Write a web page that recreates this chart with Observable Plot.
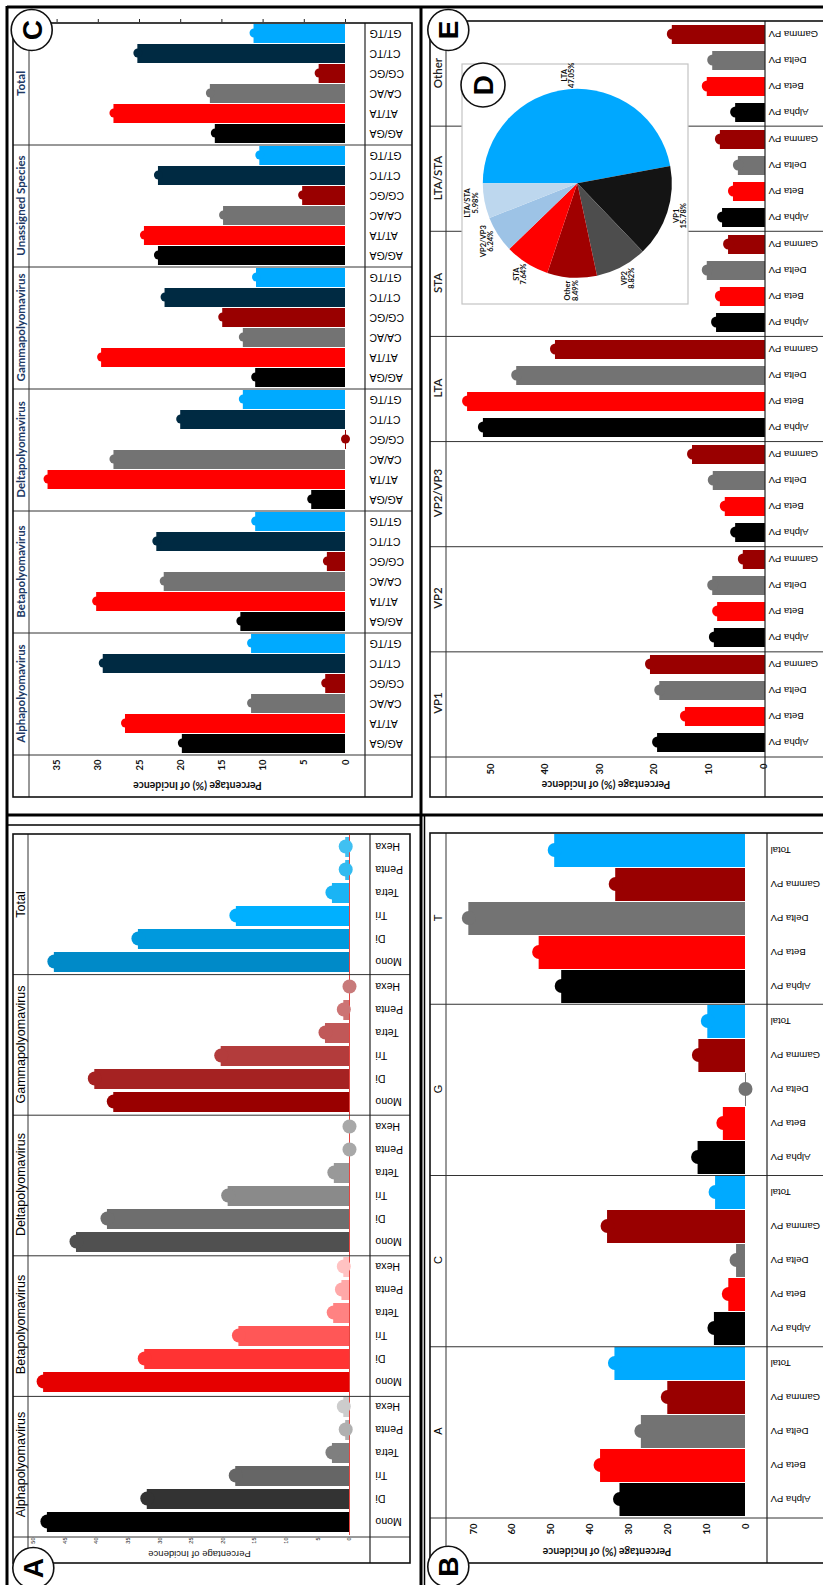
<!DOCTYPE html>
<html><head><meta charset="utf-8">
<script src="https://cdn.jsdelivr.net/npm/d3@7"></script>
<script src="https://cdn.jsdelivr.net/npm/@observablehq/plot@0.6"></script>
<style>
html,body{margin:0;padding:0;background:#fff;overflow:hidden;width:823px;height:1585px}
#wrap{position:absolute;left:0;top:0;width:1585px;height:823px;transform-origin:0 0;transform:translate(0px,1585px) rotate(-90deg);overflow:hidden;background:#fff}
#wrap > div{position:absolute}
svg{overflow:visible}
</style></head><body><div id="wrap"></div><script>
// ---------- DATA ----------
// Panel A: SSR repeat types
const repeatTypes = ["Mono","Di","Tri","Tetra","Penta","Hexa"];
const genusA = ["Alphapolyomavirus","Betapolyomavirus","Deltapolyomavirus","Gammapolyomavirus","Total"];
const ssrAlpha = [47.8, 32.0, 18.0, 2.7, 0.6, 0.9];
const ssrBeta  = [48.4, 32.4, 17.5, 2.5, 1.2, 0.9];
const ssrDelta = [43.2, 38.3, 19.2, 2.4, 0, 0];
const ssrGamma = [37.3, 40.3, 20.3, 3.8, 0.9, 0];
const ssrTotal = [46.7, 33.4, 17.9, 2.7, 0.6, 0.6];
const shadeAlpha = ["#000000","#333333","#666666","#7f7f7f","#b0b0b0","#cccccc"];
const shadeBeta  = ["#e60000","#ff3333","#ff5757","#ff8282","#ffa8a8","#ffc2c2"];
const shadeDelta = ["#505050","#6e6e6e","#8a8a8a","#999999","#a8a8a8","#a8a8a8"];
const shadeGamma = ["#990000","#a52222","#b33c3c","#c05858","#cc7474","#c87a7a"];
const shadeTotal = ["#008ac8","#0099dd","#00b0ff","#1ab4f5","#33bbf0","#40c0f2"];

// Panel B: base composition
const bases = ["A","C","G","T"];
const groupsB = ["Alpha PV","Beta PV","Delta PV","Gamma PV","Total"];
const baseA = [32.3, 37.3, 26.8, 20.0, 33.6];
const baseC = [8.0, 4.3, 2.3, 35.5, 7.7];
const baseG = [12.2, 5.7, 0, 12.0, 9.7];
const baseT = [47.3, 53.1, 71.2, 33.4, 49.1];
const colorsB = ["#000000","#ff0000","#737373","#990000","#00aaff"];

// Panel C: dinucleotide repeats
const dinucs = ["AG/GA","AT/TA","CA/AC","CG/GC","CT/TC","GT/TG"];
const genusC = ["Alphapolyomavirus","Betapolyomavirus","Deltapolyomavirus","Gammapolyomavirus","Unassigned Species","Total"];
const diAlpha = [19.8, 26.7, 11.4, 2.4, 29.4, 11.4];
const diBeta  = [12.7, 30.2, 22.0, 2.2, 22.9, 10.9];
const diDelta = [4.1, 36.1, 28.1, 0, 20.0, 12.4];
const diGamma = [10.9, 29.6, 12.4, 14.9, 21.9, 10.8];
const diUnassigned = [22.7, 24.4, 14.8, 5.2, 22.7, 10.4];
const diTotal = [15.8, 28.1, 16.4, 3.2, 25.2, 11.1];
const colorsC = ["#000000","#ff0000","#737373","#990000","#002a42","#00aaff"];

// Panel E: SSR location by protein
const proteins = ["VP1","VP2","VP2/VP3","LTA","STA","LTA/STA","Other"];
const groupsE = ["Alpha PV","Beta PV","Delta PV","Gamma PV"];
const eVP1 = [19.4, 14.3, 19.0, 20.7];
const eVP2 = [9.0, 8.4, 9.3, 3.7];
const eVP2VP3 = [5.1, 7.0, 9.2, 13.0];
const eLTA = [51.3, 54.2, 45.2, 38.1];
const eSTA = [8.6, 7.9, 10.3, 6.4];
const eLTASTA = [7.5, 5.5, 4.6, 7.9];
const eOther = [5.1, 10.3, 9.3, 16.7];
const colorsE = ["#000000","#ff0000","#737373","#990000"];

// Panel D: pie
const pieLabels = ["LTA","VP1","VP2","Other","STA","VP2/VP3","LTA/STA"];
const pieValues = [47.05, 15.78, 8.82, 8.49, 7.64, 6.24, 5.98];
const pieColors = ["#00a8ff","#141414","#4d4d4d","#a00000","#ff0000","#9dc3e6","#bdd7ee"];

// ---------- HELPERS ----------
const fArial = "'Liberation Sans', Arial, sans-serif";
const fCal = "Lato, 'Open Sans', sans-serif";
const wrap = document.getElementById("wrap");
function place(node, left, top) {
  const d = document.createElement("div");
  d.style.left = left + "px"; d.style.top = top + "px";
  d.appendChild(node); wrap.appendChild(d);
}
function rowsFrom(fxDomain, xDomain, valueArrays, colorArrays) {
  return fxDomain.flatMap((f, i) => xDomain.map((k, j) => ({f, k, v: valueArrays[i][j], c: colorArrays[i][j]})));
}

function barPanel(o) {
  const yMin = (o.zero - o.plotBottom) / o.scale;
  const yMax = (o.zero - o.titleBottom) / o.scale;
  const base = o.fromMin ? yMin : 0;
  const marks = [];
  if (o.baseRule) marks.push(Plot.ruleY([0], {stroke: o.baseRule, strokeWidth: 0.9}));
  marks.push(Plot.barY(o.rows, {fx: "f", x: "k", y1: () => base, y2: "v", fill: "c"}));
  if (o.zeroTicks) marks.push(Plot.tickY(o.rows.filter(d => d.v === 0), {fx: "f", x: "k", y: () => 0, stroke: "c", strokeWidth: 1}));
  marks.push(Plot.dot(o.rows, {fx: "f", x: "k", y: "v", fill: "c", r: o.r}));
  marks.push(Plot.text(o.fxDomain, {fx: d => d, text: d => d, frameAnchor: "top", dy: -(o.titleBottom - o.svgTop) / 2, lineAnchor: "middle",
    fontSize: o.titleSize, fontWeight: o.titleWeight, fontFamily: o.titleFont, fill: o.titleFill}));
  marks.push(Plot.axisX({tickRotate: -90, tickSize: 0, tickPadding: o.labelPad, fontSize: o.labelSize, fontFamily: fArial, fill: "#000", label: null}));
  marks.push(Plot.axisY({ticks: o.yTicks, tickSize: 0, tickPadding: o.yTickPad, fontSize: o.yTickSize, fontWeight: o.yTickWeight, fontFamily: o.yFont, fill: "#111", label: null}));
  marks.push(Plot.axisY({ticks: [], tickSize: 0, label: o.yLabel, labelAnchor: "center", labelArrow: "none", labelOffset: o.yLabelOffset,
    fontSize: o.yLabelSize, fontWeight: o.yLabelWeight, fontFamily: o.yFont, fill: "#111"}));
  if (o.rightTicks) marks.push(Plot.axisY({anchor: "right", ticks: o.yTicks, tickSize: 3, tickFormat: () => "", label: null, stroke: "#222"}));
  const chart = Plot.plot({
    width: o.svgW, height: o.svgH,
    marginLeft: o.fx0 - o.svgLeft, marginRight: 0,
    marginTop: o.titleBottom - o.svgTop, marginBottom: o.svgTop + o.svgH - o.plotBottom,
    fx: {domain: o.fxDomain, padding: 0, axis: null, label: null},
    x: {domain: o.xDomain, paddingInner: o.pi, paddingOuter: o.po, label: null},
    y: {domain: [yMin, yMax], label: null},
    color: {type: "identity"},
    style: {background: "transparent", fontFamily: fArial, fontSize: "10px", overflow: "visible"},
    marks
  });
  place(chart, o.svgLeft, o.svgTop);
}

// ---------- PANELS ----------
const A = {svgLeft: 22, svgTop: 13, svgW: 729, svgH: 397, fx0: 48, titleBottom: 28, plotBottom: 370, zero: 349, scale: 6.32,
  fxDomain: genusA, xDomain: repeatTypes,
  rows: rowsFrom(genusA, repeatTypes, [ssrAlpha, ssrBeta, ssrDelta, ssrGamma, ssrTotal], [shadeAlpha, shadeBeta, shadeDelta, shadeGamma, shadeTotal]),
  pi: 0.15, po: 0.03, r: 7, baseRule: "#e0302a",
  titleSize: 12.5, titleWeight: 400, titleFont: fArial, titleFill: "#000",
  labelPad: 5, labelSize: 10.5,
  yTicks: d3.range(0, 51, 5), yTickPad: 3, yTickSize: 5.5, yTickWeight: 400, yFont: fArial,
  yLabel: "Percentage of Incidence", yLabelOffset: 23, yLabelSize: 9.5, yLabelWeight: 400};
const C = {svgLeft: 788, svgTop: 13, svgW: 774, svgH: 399, fx0: 830, titleBottom: 29, plotBottom: 365, zero: 345, scale: 8.24,
  fxDomain: genusC, xDomain: dinucs,
  rows: rowsFrom(genusC, dinucs, [diAlpha, diBeta, diDelta, diGamma, diUnassigned, diTotal], genusC.map(() => colorsC)),
  pi: 0.05, po: 0.0, r: 4.5, zeroTicks: true, rightTicks: true,
  titleSize: 11.5, titleWeight: 700, titleFont: fCal, titleFill: "#203864",
  labelPad: 4, labelSize: 10.5,
  yTicks: d3.range(0, 36, 5), yTickPad: 5, yTickSize: 9.5, yTickWeight: 700, yFont: fCal,
  yLabel: "Percentage (%) of Incidence", yLabelOffset: 35, yLabelSize: 10.5, yLabelWeight: 700};
const B = {svgLeft: 22, svgTop: 430, svgW: 730, svgH: 400, fx0: 67, titleBottom: 446, plotBottom: 767, zero: 745, scale: 3.886,
  fxDomain: bases, xDomain: groupsB,
  rows: rowsFrom(bases, groupsB, [baseA, baseC, baseG, baseT], bases.map(() => colorsB)),
  pi: 0.03, po: 0.0, r: 7, zeroTicks: true,
  titleSize: 11, titleWeight: 400, titleFont: fArial, titleFill: "#000",
  labelPad: 3, labelSize: 9.6,
  yTicks: d3.range(0, 71, 10), yTickPad: 7, yTickSize: 9.5, yTickWeight: 700, yFont: fCal,
  yLabel: "Percentage (%) of Incidence", yLabelOffset: 39, yLabelSize: 10.5, yLabelWeight: 700};
const E = {svgLeft: 788, svgTop: 430, svgW: 776, svgH: 400, fx0: 828, titleBottom: 446, plotBottom: 765, zero: 763, scale: 5.46,
  fxDomain: proteins, xDomain: groupsE, fromMin: true,
  rows: rowsFrom(proteins, groupsE, [eVP1, eVP2, eVP2VP3, eLTA, eSTA, eLTASTA, eOther], proteins.map(() => colorsE)),
  pi: 0.27, po: 0.13, r: 5.5,
  titleSize: 11.5, titleWeight: 600, titleFont: fCal, titleFill: "#222",
  labelPad: 3, labelSize: 9.6,
  yTicks: d3.range(0, 51, 10), yTickPad: 8, yTickSize: 9.5, yTickWeight: 700, yFont: fCal,
  yLabel: "Percentage (%) of Incidence", yLabelOffset: 33, yLabelSize: 10.5, yLabelWeight: 700};
[A, C, B, E].forEach(barPanel);

// ---------- GRID / BORDERS OVERLAY ----------
const ov = d3.create("svg").attr("width", 1585).attr("height", 823).style("position", "absolute").style("left", 0).style("top", 0);
function ln(x1, y1, x2, y2, w, col) {
  ov.append("line").attr("x1", x1).attr("y1", y1).attr("x2", x2).attr("y2", y2).attr("stroke", col || "#000").attr("stroke-width", w);
}
function grid(o, x0, x1, y0, y1, n) {
  const fw = (x1 - o.fx0) / n;
  for (let k = 1; k < n; k++) ln(o.fx0 + k * fw, y0, o.fx0 + k * fw, y1, 1, "#333");
  ln(o.fx0, y0, o.fx0, y1, 1, "#333");
  ln(x0, o.titleBottom, x1, o.titleBottom, 1, "#333");
  ln(x0, o.plotBottom, x1, o.plotBottom, 1.2, "#222");
  ov.append("rect").attr("x", x0).attr("y", y0).attr("width", x1 - x0).attr("height", y1 - y0).attr("fill", "none").attr("stroke", "#111").attr("stroke-width", 1.6);
}
grid(A, 22, 751, 13, 410, 5);
grid(C, 788, 1562, 13, 412, 6);
grid(B, 22, 752, 430, 840, 4);
grid(E, 788, 1564, 430, 840, 7);
// quadrant borders
ln(0, 7, 1579, 7, 3);
ln(1578, 7, 1578, 823, 3);
ln(770, 7, 770, 823, 3);
ln(760, 7, 760, 421, 1.5);
ln(0, 421, 1579, 421, 3);
ln(0, 424.5, 770, 424.5, 1.5);
place(ov.node(), 0, 0);

// ---------- PIE (D) ----------
const pieRows = pieLabels.map((n, i) => ({n, v: pieValues[i], c: pieColors[i]}));
const pieW = 241, pieH = 227, pcx = 121.7, pcy = 116.3, pr = 94.5;
const arcs = d3.pie().sort(null).value(d => d.v)(pieRows);
const labelArc = d3.arc().innerRadius(108).outerRadius(108);
arcs.forEach(a => { const [lx, ly] = labelArc.centroid(a); a.data.lx = pcx + lx; a.data.ly = pcy + ly; });
const pie = Plot.plot({
  width: pieW, height: pieH, margin: 0,
  x: {domain: [0, pieW], range: [0, pieW], axis: null},
  y: {domain: [0, pieH], range: [0, pieH], axis: null},
  style: {background: "transparent", overflow: "visible"},
  marks: [
    Plot.frame({fill: "#fff", stroke: "#c4c4c4", strokeWidth: 1.2, inset: 0.5}),
    (index, scales) => {
      const g = d3.create("svg:g").attr("transform", `translate(${scales.x(pcx)},${scales.y(pcy)})`);
      const arc = d3.arc().innerRadius(0).outerRadius(scales.x(pr) - scales.x(0));
      g.selectAll("path").data(arcs).join("path").attr("d", arc).attr("fill", d => d.data.c);
      return g.node();
    },
    Plot.text(pieRows, {x: "lx", y: "ly", text: d => `${d.n}\n${d.v.toFixed(2)}%`, fontSize: 7.5, fontWeight: 700, fontFamily: fCal, fill: "#111", lineHeight: 0.95})
  ]
});
place(pie, 1280, 461);

// ---------- PANEL LETTERS ----------
const lt = d3.create("svg").attr("width", 1585).attr("height", 823).style("position", "absolute").style("left", 0).style("top", 0);
[["A", 17, 33.3, 20.5], ["B", 18.3, 448.3, 20.5], ["C", 1555, 31.7, 20.5], ["D", 1500, 483, 22], ["E", 1555, 448.3, 20.5]].forEach(([t, x, y, r]) => {
  lt.append("circle").attr("cx", x).attr("cy", y).attr("r", r).attr("fill", "#fff").attr("stroke", "#111").attr("stroke-width", 1.6);
  lt.append("text").attr("x", x).attr("y", y).attr("dy", "0.36em").attr("text-anchor", "middle")
    .attr("font-family", fArial).attr("font-weight", 700).attr("font-size", 28).text(t);
});
place(lt.node(), 0, 0);
</script></body></html>
